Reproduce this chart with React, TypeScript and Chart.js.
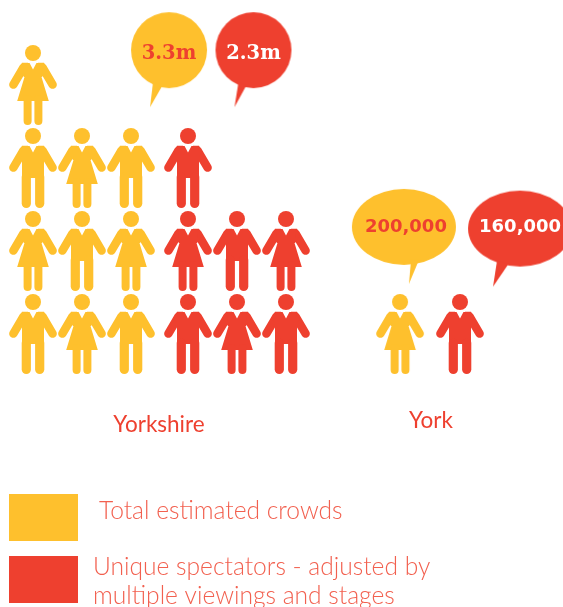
import React, { useEffect, useRef } from "react";
import { Chart, registerables } from "chart.js";

Chart.register(...registerables);

const YELLOW = "#FEC02D";
const RED = "#EE402F";

// Pictogram data: one figure per list entry, M = man, W = woman; rows run bottom to top.
const yorkshireCrowdsRows = [["M", "W", "M"], ["W", "M", "W"], ["M", "W", "M"], ["W"]];
const yorkshireUniqueRows = [["M", "W", "M"], ["W", "M", "W"], ["M"]];
const yorkCrowdsRows = [["W"]];
const yorkUniqueRows = [["M"]];

const categories = ["Yorkshire", "York"];
const seriesNames = ["Total estimated crowds", "Unique spectators - adjusted by multiple viewings and stages"];
const crowdLabels = ["3.3m", "200,000"];
const uniqueLabels = ["2.3m", "160,000"];

// Where each block of figures starts on the column axis
const groupStart = [0, 3.163, 7.49, 8.714];
// Callout anchors, in column / row units
const calloutCols = [2.776, 4.5, 7.57, 9.94];
const calloutRows = [3.42, 3.42, 1.29, 1.27];

// Axis frame: 49px per column, 83px per row
const colMin = -33 / 49, colMax = 530 / 49;
const rowMin = -273 / 83, rowMax = 334 / 83;

function makePerson(kind: string, color: string) {
  const c = document.createElement("canvas");
  c.width = 52; c.height = 84;
  const g = c.getContext("2d")!;
  g.translate(26, 2);
  g.fillStyle = color; g.strokeStyle = color; g.lineCap = "round";
  g.beginPath(); g.arc(0, 8, 8, 0, Math.PI * 2); g.fill();
  // arms, with a filled shoulder joining them to the body
  g.lineWidth = 8.5;
  for (const s of [-1, 1]) {
    g.beginPath(); g.moveTo(s * 9.5, 22.5); g.lineTo(s * 19.6, 39.6); g.stroke();
    g.beginPath();
    g.moveTo(s * 5, 17.8); g.lineTo(s * 11, 17.8); g.lineTo(s * 14.5, 24); g.lineTo(s * 9, 32); g.lineTo(s * 5, 32);
    g.closePath(); g.fill();
  }
  if (kind === "M") {
    g.beginPath();
    g.roundRect(-11, 18, 22, 32, 3); g.fill();
    g.lineWidth = 9.2;
    for (const s of [-1, 1]) {
      g.beginPath(); g.moveTo(s * 6.7, 49); g.lineTo(s * 6.7, 75.4); g.stroke();
    }
  } else {
    g.beginPath();
    g.moveTo(-10, 18); g.lineTo(10, 18); g.lineTo(8.5, 32); g.lineTo(15.8, 56); g.lineTo(-15.8, 56); g.lineTo(-8.5, 32);
    g.closePath(); g.fill();
    g.lineWidth = 8;
    for (const s of [-1, 1]) {
      g.beginPath(); g.moveTo(s * 5.4, 54); g.lineTo(s * 5.4, 76); g.stroke();
    }
  }
  // collar notch
  g.globalCompositeOperation = "destination-out";
  g.beginPath(); g.moveTo(-4, 17); g.lineTo(4, 17); g.lineTo(0, 24.5); g.closePath(); g.fill();
  return c;
}

function makeCallout(color: string, rx: number, ry: number, tail: number[]) {
  const w = Math.ceil(rx * 2 + 4), h = 2 * (ry + 24);
  const c = document.createElement("canvas");
  c.width = w; c.height = h;
  const g = c.getContext("2d")!;
  g.translate(w / 2, h / 2);
  g.fillStyle = color;
  g.beginPath(); g.ellipse(0, 0, rx, ry, 0, 0, Math.PI * 2); g.fill();
  g.beginPath();
  g.moveTo(tail[0], tail[1]); g.lineTo(tail[2], tail[3]); g.lineTo(tail[4], tail[5]);
  g.closePath(); g.fill();
  return c;
}

function points(rows: string[][], start: number) {
  const out: { x: number; y: number; kind: string }[] = [];
  rows.forEach((row, r) => row.forEach((kind, i) => out.push({ x: start + i, y: r, kind })));
  return out;
}

export default function App() {
  const ref = useRef<HTMLCanvasElement>(null);
  useEffect(() => {
    document.body.style.margin = "0";
    const sprites: Record<string, HTMLCanvasElement> = {
      MY: makePerson("M", YELLOW), WY: makePerson("W", YELLOW),
      MR: makePerson("M", RED), WR: makePerson("W", RED),
    };
    const crowds = [...points(yorkshireCrowdsRows, groupStart[0]), ...points(yorkCrowdsRows, groupStart[2])];
    const unique = [...points(yorkshireUniqueRows, groupStart[1]), ...points(yorkUniqueRows, groupStart[3])];
    const calloutText = [crowdLabels[0], uniqueLabels[0], crowdLabels[1], uniqueLabels[1]];
    const calloutColors = [RED, "#FFFFFF", RED, "#FFFFFF"];
    const callouts = calloutCols.map((x, i) => ({ x, y: calloutRows[i], text: calloutText[i] }));
    const calloutSprites = [
      makeCallout(YELLOW, 38, 38, [-16, 32, -19, 57, -7, 36]),
      makeCallout(RED, 38, 38, [-15, 32, -19, 57, -7, 35]),
      makeCallout(YELLOW, 52, 38, [7, 34, 5, 57, 15, 33]),
      makeCallout(RED, 52, 38, [-23, 32, -27, 58, -12, 36]),
    ];
    const textDrop = [9, 9, 5, 3];

    const textPlugin = {
      id: "pictoText",
      afterDatasetsDraw(chart: any) {
        const g = chart.ctx;
        const xs = chart.scales.x, ys = chart.scales.y;
        g.save();
        g.textBaseline = "alphabetic";
        // callout values
        g.textAlign = "center";
        callouts.forEach((p, i) => {
          g.fillStyle = calloutColors[i];
          g.font = i < 2 ? "bold 19.5px 'DejaVu Serif'" : "bold 18px 'DejaVu Sans'";
          g.fillText(p.text, xs.getPixelForValue(p.x) + (i === 2 ? 2 : 0), ys.getPixelForValue(p.y) + textDrop[i]);
        });
        // category names
        g.fillStyle = RED;
        g.font = "400 22.5px Lato";
        g.fillText(categories[0], 159, 432);
        g.fillText(categories[1], 431, 428);
        // legend
        g.fillStyle = YELLOW; g.fillRect(9, 494, 69, 47);
        g.fillStyle = RED; g.fillRect(9, 556, 69, 47);
        g.textAlign = "left";
        g.fillStyle = "#F2604F";
        g.font = "300 24.6px Lato";
        g.fillText(seriesNames[0], 99, 519);
        const cut = seriesNames[1].indexOf(" multiple");
        g.fillText(seriesNames[1].slice(0, cut), 93, 575);
        g.fillText(seriesNames[1].slice(cut + 1), 93, 604);
        g.restore();
      },
    };

    const chart = new Chart(ref.current!, {
      type: "scatter",
      data: {
        datasets: [
          {
            label: seriesNames[0],
            data: crowds as any,
            pointStyle: crowds.map((p) => sprites[p.kind + "Y"]) as any,
            clip: false as any,
          },
          {
            label: seriesNames[1],
            data: unique as any,
            pointStyle: unique.map((p) => sprites[p.kind + "R"]) as any,
            clip: false as any,
          },
          {
            label: "Callouts",
            data: callouts as any,
            pointStyle: calloutSprites as any,
            clip: false as any,
          },
        ],
      },
      options: {
        responsive: false,
        animation: false,
        layout: { padding: 0, autoPadding: false },
        events: [],
        plugins: { legend: { display: false }, tooltip: { enabled: false } },
        scales: {
          x: { type: "linear", display: false, min: colMin, max: colMax },
          y: { type: "linear", display: false, min: rowMin, max: rowMax },
        },
      },
      plugins: [textPlugin],
    });
    return () => chart.destroy();
  }, []);
  return <canvas ref={ref} width={563} height={607} style={{ display: "block" }} />;
}
